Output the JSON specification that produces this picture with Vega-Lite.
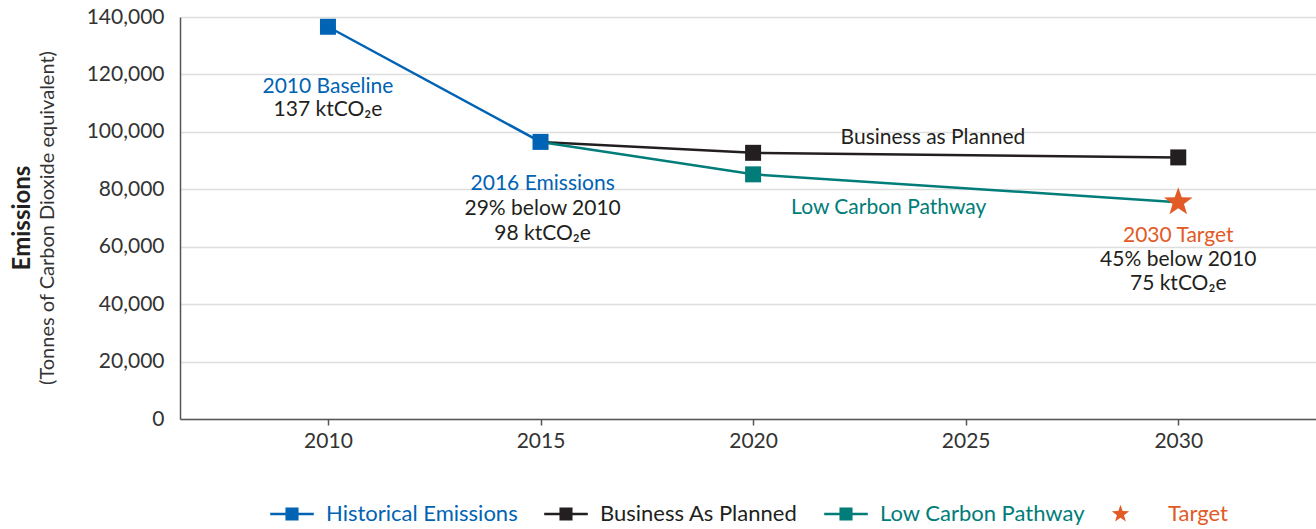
{
  "$schema": "https://vega.github.io/schema/vega-lite/v6.json",
  "width": 1136,
  "height": 402,
  "autosize": {"type": "none"},
  "padding": {"left": 180, "top": 17, "right": 0, "bottom": 110},
  "background": "white",
  "config": {
    "font": "Lato",
    "view": {"stroke": null},
    "axis": {"labelFont": "Lato", "titleFont": "Lato", "labelColor": "#333333"}
  },
  "title": {
    "text": "Emissions",
    "subtitle": "(Tonnes of Carbon Dioxide equivalent)",
    "orient": "left",
    "anchor": "middle",
    "font": "Lato",
    "fontSize": 24,
    "fontWeight": "bold",
    "color": "#231F20",
    "subtitleFont": "Lato",
    "subtitleFontSize": 20,
    "subtitleFontWeight": "normal",
    "subtitleColor": "#333333",
    "subtitlePadding": 3,
    "offset": 28
  },
  "encoding": {
    "x": {
      "field": "year",
      "type": "quantitative",
      "scale": {"domain": [2006.52, 2033.24], "nice": false, "zero": false},
      "axis": {
        "title": null,
        "values": [2010, 2015, 2020, 2025, 2030],
        "format": "d",
        "grid": false,
        "domainColor": "#555555",
        "domainWidth": 1.5,
        "tickColor": "#555555",
        "tickWidth": 1.5,
        "tickSize": 6,
        "labelFontSize": 21,
        "labelPadding": 5
      }
    },
    "y": {
      "field": "value",
      "type": "quantitative",
      "scale": {"domain": [0, 140000], "nice": false},
      "axis": {
        "title": null,
        "values": [0, 20000, 40000, 60000, 80000, 100000, 120000, 140000],
        "format": ",.0f",
        "grid": true,
        "gridColor": "#dddddd",
        "gridWidth": 1.5,
        "ticks": false,
        "domainColor": "#555555",
        "domainWidth": 1.5,
        "labelFontSize": 21,
        "labelPadding": 16
      }
    }
  },
  "layer": [
    {
      "data": {"values": [
        {"series": "Business As Planned", "year": 2015, "value": 96500},
        {"series": "Business As Planned", "year": 2020, "value": 92700},
        {"series": "Business As Planned", "year": 2030, "value": 91100},
        {"series": "Low Carbon Pathway", "year": 2015, "value": 96500},
        {"series": "Low Carbon Pathway", "year": 2020, "value": 85200},
        {"series": "Low Carbon Pathway", "year": 2030, "value": 75500},
        {"series": "Historical Emissions", "year": 2010, "value": 136600},
        {"series": "Historical Emissions", "year": 2015, "value": 96500}
      ]},
      "mark": {"type": "line", "strokeWidth": 2.5},
      "encoding": {
        "color": {
          "field": "series",
          "type": "nominal",
          "scale": {
            "domain": ["Historical Emissions", "Business As Planned", "Low Carbon Pathway", "Target"],
            "range": ["#0063B4", "#231F20", "#007D79", "#E25A26"]
          },
          "legend": {
            "title": null,
            "orient": "none",
            "legendX": 90,
            "legendY": 475,
            "direction": "horizontal",
            "symbolSize": 1900,
            "symbolStrokeWidth": 0,
            "labelFont": "Lato",
            "labelFontSize": 22,
            "labelLimit": 0,
            "labelOffset": 12,
            "columnPadding": 26,
            "encode": {
              "symbols": {
                "update": {
                  "shape": {"signal": "datum.value === 'Target' ? 'M-0.62,-0.42L-0.52,-0.138L-0.221,-0.13L-0.458,0.053L-0.373,0.34L-0.62,0.17L-0.867,0.34L-0.782,0.053L-1.019,-0.13L-0.72,-0.138Z' : 'M-1,-0.06H1V0.06H-1Z M-0.3,-0.3H0.3V0.3H-0.3Z'"},
                  "fill": {"scale": "color", "field": "value"},
                  "stroke": {"value": "transparent"},
                  "opacity": {"value": 1}
                }
              },
              "labels": {
                "update": {"fill": {"scale": "color", "field": "value"}}
              }
            }
          }
        }
      }
    },
    {
      "data": {"values": [
        {"series": "Business As Planned", "year": 2020, "value": 92700},
        {"series": "Business As Planned", "year": 2030, "value": 91100},
        {"series": "Low Carbon Pathway", "year": 2020, "value": 85200},
        {"series": "Historical Emissions", "year": 2010, "value": 136600},
        {"series": "Historical Emissions", "year": 2015, "value": 96500}
      ]},
      "mark": {"type": "point", "shape": "square", "filled": true, "size": 256, "opacity": 1},
      "encoding": {
        "color": {"field": "series", "type": "nominal"}
      }
    },
    {
      "data": {"values": [
        {"series": "Target", "year": 2030, "value": 75500}
      ]},
      "mark": {"type": "point", "shape": "M0,-1L0.235,-0.324L0.951,-0.309L0.38,0.124L0.588,0.809L0,0.4L-0.588,0.809L-0.38,0.124L-0.951,-0.309L-0.235,-0.324Z", "filled": true, "size": 900, "opacity": 1},
      "encoding": {
        "color": {"field": "series", "type": "nominal"}
      }
    },
    {
      "data": {"values": [
        {"label": "2010 Baseline", "year": 2010, "value": 115500, "series": "Historical Emissions"},
        {"label": "2016 Emissions", "year": 2015.05, "value": 81700, "series": "Historical Emissions"},
        {"label": "Business as Planned", "year": 2024.23, "value": 97700, "series": "Business As Planned"},
        {"label": "Low Carbon Pathway", "year": 2023.19, "value": 73350, "series": "Low Carbon Pathway"},
        {"label": "2030 Target", "year": 2030, "value": 63600, "series": "Target"}
      ]},
      "mark": {"type": "text", "fontSize": 21, "font": "Lato", "baseline": "middle", "align": "center"},
      "encoding": {
        "text": {"field": "label"},
        "color": {"field": "series", "type": "nominal"}
      }
    },
    {
      "data": {"values": [
        {"label": "137 ktCO₂e", "year": 2010, "value": 107500},
        {"label": "29% below 2010", "year": 2015.05, "value": 73000},
        {"label": "98 ktCO₂e", "year": 2015.05, "value": 64600},
        {"label": "45% below 2010", "year": 2030, "value": 55200},
        {"label": "75 ktCO₂e", "year": 2030, "value": 46900}
      ]},
      "mark": {"type": "text", "fontSize": 21, "font": "Lato", "baseline": "middle", "align": "center", "color": "#231F20"},
      "encoding": {
        "text": {"field": "label"}
      }
    }
  ]
}
